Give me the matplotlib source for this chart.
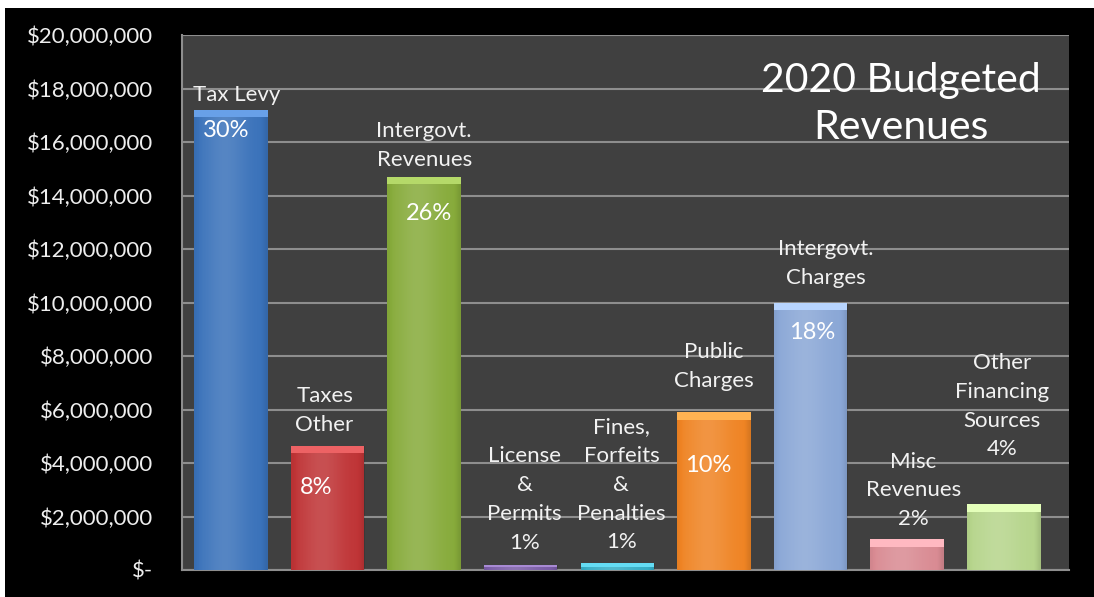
import matplotlib
matplotlib.use("Agg")
import matplotlib.pyplot as plt
import numpy as np
from matplotlib.patches import Rectangle
from matplotlib.colors import to_rgb

plt.rcParams['font.family'] = ['Lato', 'DejaVu Sans']

# 2020 budgeted revenues by source
categories = ["Tax Levy", "Taxes\nOther", "Intergovt.\nRevenues", "License\n&\nPermits",
              "Fines,\nForfeits\n&\nPenalties", "Public\nCharges", "Intergovt.\nCharges",
              "Misc\nRevenues", "Other\nFinancing\nSources"]
values = [17200000, 4650000, 14700000, 200000, 250000, 5900000, 10000000, 1150000, 2450000]
shares = [30, 8, 26, 1, 1, 10, 18, 2, 4]
share_inside = [True, True, True, False, False, True, True, False, False]
colors = ["#3a72ba", "#bf3436", "#87ab3b", "#7a5ca6", "#36aec6", "#ef8424",
          "#8aa7d6", "#d98b93", "#b6d58c"]
yticks = np.arange(0, 20000001, 2000000)
ytick_labels = ["$-"] + ["${:,}".format(v) for v in yticks[1:]]

# label placement, pixel offsets from the top centre of each bar
label_dx = [6, -3, 0, 4, 4, 0, 15, 6, -2]
label_dy = [5, 11, 7, 12, 11, 21, 15, 10, 45]
pct_dx = [-5, -11, 5, 0, 0, -6, 2, 0, 0]
pct_dy = [-21, -42, -37, 0, 0, -53, -30, 0, 0]

fig = plt.figure(figsize=(10.94, 5.97), dpi=100, facecolor="white")
fig.patches.append(Rectangle((5 / 1094, 0), 1, 1 - 8 / 597, transform=fig.transFigure,
                             facecolor="black", edgecolor="none", zorder=-5))
ax = fig.add_axes([182 / 1094, 27 / 597, 887 / 1094, 535 / 597])
ax.set_zorder(2)
ax.set_facecolor("#404040")

x = np.arange(len(values))
width = 0.76
bars = ax.bar(x, values, width=width, color=colors, zorder=3)

# soft shading across each bar plus a lighter bevel on top
s = np.linspace(0, 1, 64)
shade = 0.14 * np.exp(-((s - 0.42) / 0.3) ** 2) - 0.10 * np.exp(-((s - 1.0) / 0.06) ** 2) \
    - 0.06 * np.exp(-(s / 0.06) ** 2)
for b, v, c in zip(bars, values, colors):
    rgb = np.array(to_rgb(c))
    img = np.zeros((1, 64, 4))
    img[0, :, :3] = np.where(shade[:, None] > 0, 1.0, 0.0)
    img[0, :, 3] = np.abs(shade)
    im = ax.imshow(img, extent=[b.get_x(), b.get_x() + width, 0, v], aspect="auto",
                   zorder=4, interpolation="bilinear")
    im.set_clip_path(b)
    cap = min(280000, 0.5 * v)
    top = np.clip(rgb + 0.18, 0, 1)
    ax.bar(b.get_x() + width / 2, cap, width=width, bottom=v - cap, color=top, zorder=5)

for i, (lab, v, sh, inside) in enumerate(zip(categories, values, shares, share_inside)):
    text = lab if inside else lab + "\n{}%".format(sh)
    ax.annotate(text, (x[i], v), xytext=(label_dx[i], label_dy[i]), textcoords="offset pixels",
                ha="center", va="bottom", color="#f2f2f2", fontsize=16, linespacing=1.55,
                zorder=6)
    if inside:
        ax.annotate("{}%".format(sh), (x[i], v), xytext=(pct_dx[i], pct_dy[i]),
                    textcoords="offset pixels", ha="center", va="center", color="white",
                    fontsize=17, zorder=6)

ax.text(0.81, 0.871, "2020 Budgeted\nRevenues", transform=ax.transAxes, ha="center",
        va="center", color="white", fontsize=29.5, linespacing=1.36, zorder=6)

ax.set_xlim(-0.507, 8.675)
ax.set_ylim(0, 20000000)
ax.set_yticks(yticks)
ax.set_yticklabels(ytick_labels)
ax.set_xticks([])
ax.tick_params(axis="y", length=0, pad=21, labelsize=16, labelcolor="#eeeeee")
ax.grid(axis="y", color="#8e8e8e", linewidth=1.5, zorder=1)
ax.set_axisbelow(True)
for side in ["top", "right"]:
    ax.spines[side].set_visible(False)
for side in ["left", "bottom"]:
    ax.spines[side].set_color("#8e8e8e")
    ax.spines[side].set_linewidth(1.5)

fig.savefig("out.png", dpi=100, facecolor=fig.get_facecolor())
